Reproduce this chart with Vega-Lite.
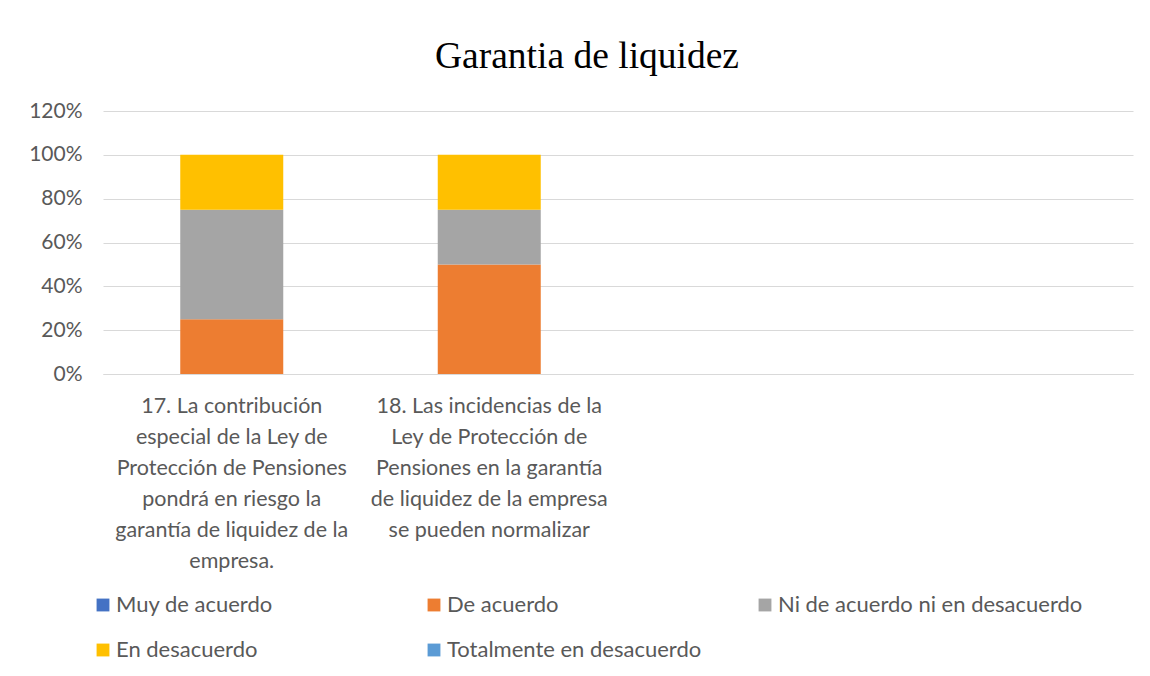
{
  "$schema": "https://vega.github.io/schema/vega-lite/v6.json",
  "autosize": "none",
  "width": 1030,
  "height": 263,
  "padding": {"left": 103, "top": 111, "right": 17, "bottom": 302},
  "background": "white",
  "title": {
    "text": "Garantia de liquidez",
    "font": "Liberation Serif",
    "fontSize": 37.5,
    "fontWeight": "normal",
    "color": "#000000",
    "anchor": "middle",
    "dx": -31,
    "offset": 25
  },
  "config": {
    "view": {"stroke": null},
    "font": "Lato"
  },
  "data": {
    "values": [
      {"pregunta": "17. La contribución|especial de la Ley de|Protección de Pensiones|pondrá en riesgo la|garantía de liquidez de la|empresa.", "respuesta": "De acuerdo", "orden": 2, "valor": 0.25},
      {"pregunta": "17. La contribución|especial de la Ley de|Protección de Pensiones|pondrá en riesgo la|garantía de liquidez de la|empresa.", "respuesta": "Ni de acuerdo ni en desacuerdo", "orden": 3, "valor": 0.5},
      {"pregunta": "17. La contribución|especial de la Ley de|Protección de Pensiones|pondrá en riesgo la|garantía de liquidez de la|empresa.", "respuesta": "En desacuerdo", "orden": 4, "valor": 0.25},
      {"pregunta": "18. Las incidencias de la|Ley de Protección de|Pensiones en la garantía|de liquidez de la empresa|se pueden normalizar", "respuesta": "De acuerdo", "orden": 2, "valor": 0.5},
      {"pregunta": "18. Las incidencias de la|Ley de Protección de|Pensiones en la garantía|de liquidez de la empresa|se pueden normalizar", "respuesta": "Ni de acuerdo ni en desacuerdo", "orden": 3, "valor": 0.25},
      {"pregunta": "18. Las incidencias de la|Ley de Protección de|Pensiones en la garantía|de liquidez de la empresa|se pueden normalizar", "respuesta": "En desacuerdo", "orden": 4, "valor": 0.25}
    ]
  },
  "mark": {"type": "bar"},
  "encoding": {
    "x": {
      "field": "pregunta",
      "type": "nominal",
      "sort": null,
      "scale": {
        "domain": [
          "17. La contribución|especial de la Ley de|Protección de Pensiones|pondrá en riesgo la|garantía de liquidez de la|empresa.",
          "18. Las incidencias de la|Ley de Protección de|Pensiones en la garantía|de liquidez de la empresa|se pueden normalizar",
          " ",
          "  "
        ],
        "paddingInner": 0.6,
        "paddingOuter": 0.3
      },
      "axis": {
        "title": null,
        "labelAngle": 0,
        "labelExpr": "split(datum.label, '|')",
        "labelFontSize": 21.5,
        "labelLineHeight": 31,
        "labelColor": "#595959",
        "labelLimit": 0,
        "labelPadding": 21,
        "labelBaseline": "top",
        "ticks": false,
        "domainColor": "#d9d9d9",
        "domainWidth": 1
      }
    },
    "y": {
      "field": "valor",
      "type": "quantitative",
      "stack": "zero",
      "scale": {"domain": [0, 1.2], "nice": false},
      "axis": {
        "title": null,
        "values": [0, 0.2, 0.4, 0.6, 0.8, 1.0, 1.2],
        "format": ".0%",
        "labelFontSize": 21,
        "labelColor": "#595959",
        "labelPadding": 21,
        "ticks": false,
        "domain": false,
        "gridColor": "#d9d9d9",
        "gridWidth": 1
      }
    },
    "color": {
      "field": "respuesta",
      "type": "nominal",
      "scale": {
        "domain": ["Muy de acuerdo", "De acuerdo", "Ni de acuerdo ni en desacuerdo", "En desacuerdo", "Totalmente en desacuerdo"],
        "range": ["#4472C4", "#ED7D31", "#A5A5A5", "#FFC000", "#5B9BD5"]
      },
      "legend": {
        "title": null,
        "orient": "none",
        "legendX": -11,
        "legendY": 483,
        "direction": "horizontal",
        "columns": 3,
        "gridAlign": "all",
        "columnPadding": 2,
        "rowPadding": 23,
        "symbolType": "square",
        "symbolSize": 165,
        "symbolStrokeWidth": 0,
        "labelFontSize": 22,
        "labelColor": "#595959",
        "labelOffset": 2,
        "labelLimit": 0
      }
    },
    "order": {"field": "orden", "type": "quantitative"}
  }
}
